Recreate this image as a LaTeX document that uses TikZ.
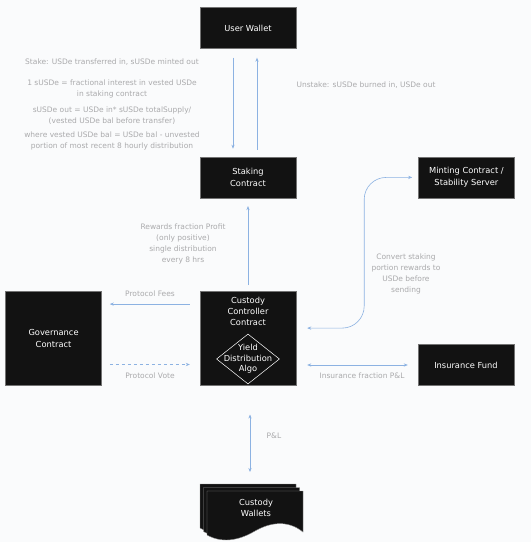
\documentclass[tikz,border=0pt]{standalone}
\usepackage{fontspec}
\setmainfont{DejaVu Sans}
\usetikzlibrary{positioning,arrows.meta,shapes.geometric}
\definecolor{BoxInk}{RGB}{18,18,18}
\definecolor{NoteGray}{RGB}{170,170,172}
\definecolor{FlowBlue}{RGB}{140,178,226}
\definecolor{PaperTint}{RGB}{250,251,252}

\tikzset{
  darkbox/.style={draw=black!55, fill=BoxInk, text=white, align=center,
    font=\fontsize{8.3}{11.5}\selectfont, minimum width=96pt, minimum height=41pt, inner sep=1pt},
  boxtext/.style={text=white, align=center, font=\fontsize{8.3}{11}\selectfont, inner sep=0pt},
  note/.style={text=NoteGray, align=center, font=\fontsize{7.5}{10.8}\selectfont, inner sep=0pt},
  flow/.style={draw=FlowBlue, line width=0.6pt, -{Stealth[length=4pt,width=3.2pt]}},
  twoway/.style={flow, {Stealth[length=4pt,width=3.2pt]}-{Stealth[length=4pt,width=3.2pt]}},
}

\begin{document}
\begin{tikzpicture}[x=1pt, y=-1pt, node distance=10pt]
  \fill[PaperTint] (0,0) rectangle (531,542);
  \useasboundingbox (0,0) rectangle (531,542);

  % boxes
  \node[darkbox] (wallet) at (248,28) {User Wallet};
  \node[darkbox, below=108pt of wallet] (staking) {Staking\\Contract};
  \node[darkbox, right=122pt of staking] (minting) {Minting Contract /\\Stability Server};
  \node[darkbox, minimum height=94pt, below=93pt of staking] (custody) {};
  \node[boxtext, below=6pt of custody.north] (custodytext) {Custody\\Controller\\Contract};
  \node[draw=white, line width=0.5pt, diamond, minimum width=63pt, minimum height=50pt,
        inner sep=0pt] (algo) at (248,359) {};
  \node[boxtext, font=\fontsize{8.3}{10.5}\selectfont] (algotext) at (algo) {Yield\\Distribution\\Algo};
  \node[darkbox, minimum height=94pt, left=98pt of custody] (governance) {Governance\\Contract};
  \node[darkbox] (insurance) at (466,365) {Insurance Fund};

  % custody wallets, stacked sheets
  \foreach \d in {0,3.5,7}
    \filldraw[fill=BoxInk, draw=black!45, line width=0.4pt]
      (200+\d,484+\d) -- (296+\d,484+\d) -- (296+\d,525+\d)
      .. controls (280+\d,512+\d) and (262+\d,516+\d) .. (248+\d,524+\d)
      .. controls (236+\d,531+\d) and (218+\d,538+\d) .. (200+\d,528+\d) -- cycle;
  \node[boxtext] (wallets) at (256,508) {Custody\\Wallets};
  \coordinate (walletstop) at (250,484);

  % notes
  \node[note] (stakenote) at (112,62) {Stake: USDe transferred in, sUSDe minted out};
  \node[note, below=14pt of stakenote] (sharenote) {1 sUSDe = fractional interest in vested USDe\\in staking contract};
  \node[note, below=8.5pt of sharenote] (outnote) {sUSDe out = USDe in* sUSDe totalSupply/\\(vested USDe bal before transfer)};
  \node[note, below=7.5pt of outnote] (vestnote) {where vested USDe bal = USDe bal - unvested\\portion of most recent 8 hourly distribution};
  \node[note] (unstakenote) at (366,85) {Unstake: sUSDe burned in, USDe out};
  \node[note] (rewardsnote) at (183,244) {Rewards fraction Profit\\(only positive)\\single distribution\\every 8 hrs};
  \node[note] (convertnote) at (406,274) {Convert staking\\portion rewards to\\USDe before\\sending};
  \node[note] (feesnote) at (150,294) {Protocol Fees};
  \node[note] (votenote) at (150,376) {Protocol Vote};
  \node[note] (insnote) at (362,376) {Insurance fraction P\&L};
  \node[note] (pnlnote) at (274,436) {P\&L};

  % connectors
  \draw[flow, shorten <=9pt, shorten >=8pt] ([xshift=-15pt]wallet.south) -- ([xshift=-15pt]staking.north);
  \draw[flow, shorten <=7pt, shorten >=9pt] ([xshift=9pt]staking.north) -- ([xshift=9pt]wallet.south);
  \draw[flow, shorten <=6pt, shorten >=8pt] (custody.north) -- (staking.south);
  \draw[twoway, rounded corners=22pt, shorten <=11pt, shorten >=6pt]
    ([yshift=-37pt]custody.north east) -| ([xshift=-54pt]minting.west) -- (minting.west);
  \draw[flow, shorten <=10pt, shorten >=8pt]
    ([yshift=-13pt]custody.north west) -- ([yshift=-13pt]custody.north west -| governance.east);
  \draw[flow, dashed, shorten <=8pt, shorten >=10pt]
    ([yshift=21pt]governance.south east) -- ([yshift=21pt]governance.south east -| custody.west);
  \draw[twoway, shorten <=11pt, shorten >=10pt] (custody.east |- insurance) -- (insurance);
  \draw[twoway, shorten <=29pt, shorten >=12pt] (custody.south -| walletstop) -- (walletstop);
\end{tikzpicture}
\end{document}
